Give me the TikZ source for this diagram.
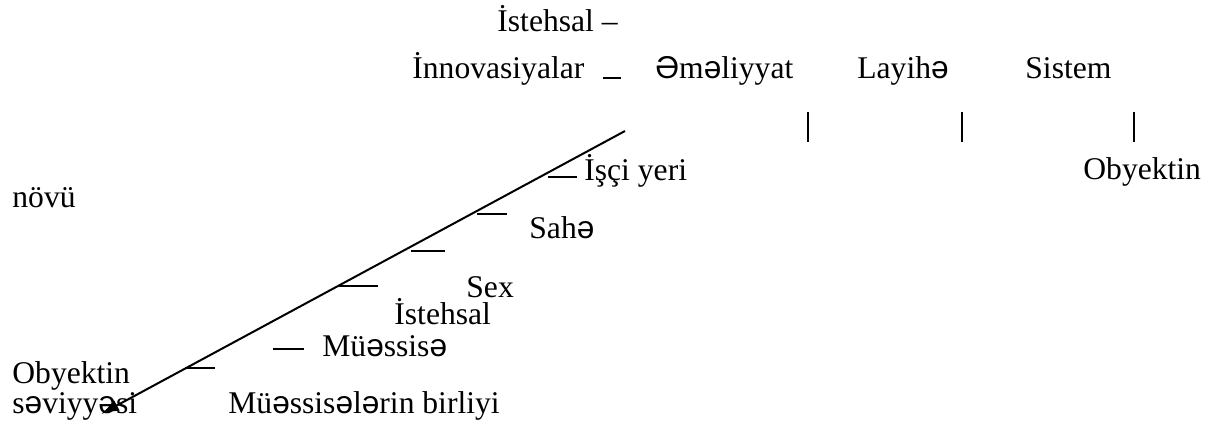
\documentclass[tikz,border=0pt]{standalone}
\usepackage{fontspec}
\setmainfont{Liberation Serif}
\newfontfamily\schwafont{Liberation Sans}
\newcommand{\sw}{{\schwafont ə}}
\newcommand{\SW}{{\schwafont Ə}}
\usetikzlibrary{arrows.meta}
\begin{document}
\begin{tikzpicture}[x=0.5pt,y=-0.5pt,
  lbl/.style={anchor=base west,inner sep=0pt,font=\fontsize{15.8}{18}\selectfont},
  tick/.style={line width=1pt},
  bar/.style={line width=0.9pt},
  axis/.style={line width=1pt,-{Latex[length=9pt,width=6pt]}}]
\useasboundingbox (0,0) rectangle (1212,428);
% top labels
\node[lbl] (ist) at (497,32) {İstehsal –};
\node[lbl] (inn) at (412,78) {İnnovasiyalar};
\draw[tick] (603,78) -- (621,78);
\node[lbl] (eme) at (655,78) {\SW m\sw liyyat};
\node[lbl] (lay) at (857,78) {Layih\sw};
\node[lbl] (sis) at (1025,78) {Sistem};
\draw[bar] (808,112) -- (808,142);
\draw[bar] (962,112) -- (962,142);
\draw[bar] (1134,112) -- (1134,142);
\node[lbl] (obr) at (1083,179) {Obyektin};
\node[lbl] (nov) at (12,207) {növü};
% axis
\coordinate (top) at (625,131);
\coordinate (tip) at (101,414);
\draw[axis] (top) -- (tip);
% ticks and levels
\draw[tick] (548,177) -- (577,177);
\node[lbl] (isci) at (584,180) {İşçi yeri};
\draw[tick] (477,214) -- (507,214);
\node[lbl] (sahe) at (529,238) {Sah\sw};
\draw[tick] (411,251) -- (445,251);
\node[lbl] (sex) at (466,297) {Sex};
\draw[tick] (338,286) -- (378,286);
\node[lbl] (istb) at (394,324) {İstehsal};
\draw[tick] (273,349) -- (304,349);
\node[lbl] (mue) at (322,356) {Mü\sw ssis\sw};
\draw[tick] (185,368) -- (215,368);
\node[lbl] (bir) at (228,413) {Mü\sw ssis\sw l\sw rin birliyi};
\node[lbl] (obl) at (12,383) {Obyektin};
\node[lbl] (sev) at (12,413) {s\sw viyy\sw si};
\end{tikzpicture}
\end{document}
